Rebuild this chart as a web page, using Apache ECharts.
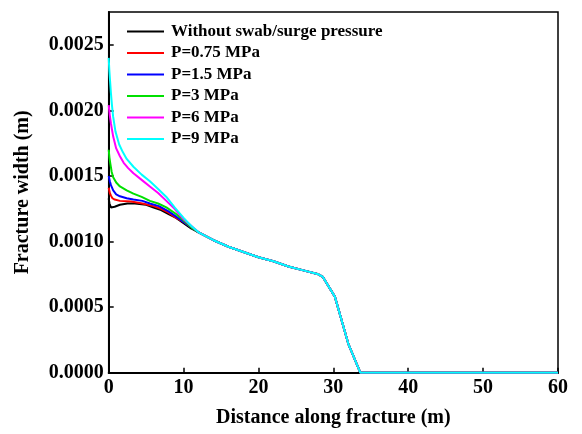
<!DOCTYPE html>
<html>
<head>
<meta charset="utf-8">
<script src="https://cdn.jsdelivr.net/npm/echarts@6/dist/echarts.min.js"></script>
<style>
  html, body { margin: 0; padding: 0; background: #fff; }
  #chart { width: 582px; height: 434px; }
</style>
</head>
<body>
<div id="chart"></div>
<script>
// series names and colours
var names = ['Without swab/surge pressure', 'P=0.75 MPa', 'P=1.5 MPa', 'P=3 MPa', 'P=6 MPa', 'P=9 MPa'];
var colors = ['#000000', '#ff0000', '#0000ff', '#00e000', '#ff00ff', '#00ffff'];

// shared tail (all curves merge after ~12 m)
var tail = [
  [12, 0.00107], [14, 0.00101], [16, 0.00096], [18, 0.00092], [20, 0.00088],
  [22, 0.00085], [24, 0.00081], [26, 0.00078], [28, 0.00075], [28.6, 0.00073],
  [30.2, 0.00058], [32, 0.00022], [33.6, 0], [60, 0]
];

// near-wellbore part of each curve
var head0 = [[0, 0.00133], [0.1, 0.00129], [0.3, 0.00126], [0.8, 0.001265], [1.5, 0.00128], [2.5, 0.00129], [3.5, 0.00129], [5, 0.00128], [6, 0.00126], [7, 0.00124], [8, 0.00121], [9, 0.00118], [10, 0.00114], [11, 0.00110]];
var head1 = [[0, 0.00141], [0.15, 0.00137], [0.3, 0.00135], [0.5, 0.00133], [0.8, 0.00132], [1.5, 0.00131], [3, 0.001305], [4.5, 0.00129], [6, 0.00127], [7, 0.00125], [8, 0.00122], [9, 0.00118], [10, 0.00115], [11, 0.00111]];
var head2 = [[0, 0.00150], [0.15, 0.00146], [0.3, 0.00143], [0.6, 0.00139], [1, 0.00136], [1.5, 0.001345], [2.4, 0.00133], [3.3, 0.00132], [4.5, 0.00131], [5.5, 0.00129], [6.7, 0.00127], [8, 0.00123], [9, 0.00119], [10, 0.00115], [11, 0.00111]];
var head3 = [[0, 0.00170], [0.1, 0.00164], [0.2, 0.00160], [0.4, 0.00153], [0.6, 0.00149], [1, 0.00145], [1.5, 0.00142], [2.4, 0.00139], [3.3, 0.001365], [4.4, 0.00134], [5.5, 0.00131], [6.6, 0.00129], [7.7, 0.00126], [9, 0.00121], [10, 0.00116], [11, 0.00111]];
var head4 = [[0, 0.00204], [0.15, 0.00196], [0.3, 0.00190], [0.6, 0.00180], [1.0, 0.00171], [1.5, 0.00165], [2, 0.00160], [2.6, 0.00156], [3.3, 0.00152], [4.4, 0.00147], [5.5, 0.00142], [6.6, 0.00137], [7.7, 0.00131], [8.8, 0.00125], [10, 0.00117], [11, 0.00112]];
var head5 = [[0, 0.00240], [0.08, 0.00231], [0.15, 0.00225], [0.3, 0.00213], [0.45, 0.00203], [0.6, 0.00195], [0.9, 0.00184], [1.4, 0.00174], [1.9, 0.00168], [2.4, 0.00163], [3.3, 0.00157], [4.4, 0.00151], [5.5, 0.00146], [6.6, 0.00140], [7.7, 0.00134], [8.8, 0.00126], [10, 0.00118], [11, 0.00112]];

var heads = [head0, head1, head2, head3, head4, head5];

var xTicks = { min: 0, max: 60, interval: 10 };
var yTicks = { min: 0, max: 0.00275, interval: 0.0005 };

var font = 'Liberation Serif';

var myChart = echarts.init(document.getElementById('chart'));
var series = names.map(function (n, i) {
  return {
    name: n,
    type: 'line',
    data: heads[i].concat(tail),
    showSymbol: false,
    symbol: 'none',
    smooth: false,
    lineStyle: { color: colors[i], width: 2 },
    itemStyle: { color: colors[i] },
    z: 2 + i
  };
});

var option = {
  animation: false,
  grid: {
    left: 108.7, right: 24, top: 12, bottom: 61.3,
    show: true, borderColor: '#000', borderWidth: 1.5
  },
  legend: {
    orient: 'vertical',
    left: 122, top: 18,
    icon: 'rect',
    itemWidth: 37, itemHeight: 2, itemGap: 4.5,
    data: names,
    textStyle: { fontFamily: font, fontWeight: 'bold', fontSize: 17, color: '#000', padding: [0, 0, 0, 2] }
  },
  xAxis: {
    type: 'value',
    min: xTicks.min, max: xTicks.max, interval: xTicks.interval,
    name: 'Distance along fracture (m)',
    nameLocation: 'middle', nameGap: 35,
    nameTextStyle: { fontFamily: font, fontWeight: 'bold', fontSize: 20, color: '#000' },
    axisLine: { lineStyle: { color: '#000', width: 2 } },
    axisTick: { inside: true, length: 5, lineStyle: { color: '#000', width: 1.5 } },
    axisLabel: { fontFamily: font, fontWeight: 'bold', fontSize: 20, color: '#000', margin: 5 },
    splitLine: { show: false }
  },
  yAxis: {
    type: 'value',
    min: yTicks.min, max: yTicks.max, interval: yTicks.interval,
    name: 'Fracture width (m)',
    nameLocation: 'middle', nameGap: 76,
    nameTextStyle: { fontFamily: font, fontWeight: 'bold', fontSize: 20, color: '#000' },
    axisLine: { lineStyle: { color: '#000', width: 2 } },
    axisTick: { inside: true, length: 5, lineStyle: { color: '#000', width: 1.5 } },
    axisLabel: {
      fontFamily: font, fontWeight: 'bold', fontSize: 20, color: '#000', margin: 5,
      showMaxLabel: false,
      formatter: function (v) { return v.toFixed(4); }
    },
    splitLine: { show: false }
  },
  series: series
};
myChart.setOption(option);
</script>
</body>
</html>
